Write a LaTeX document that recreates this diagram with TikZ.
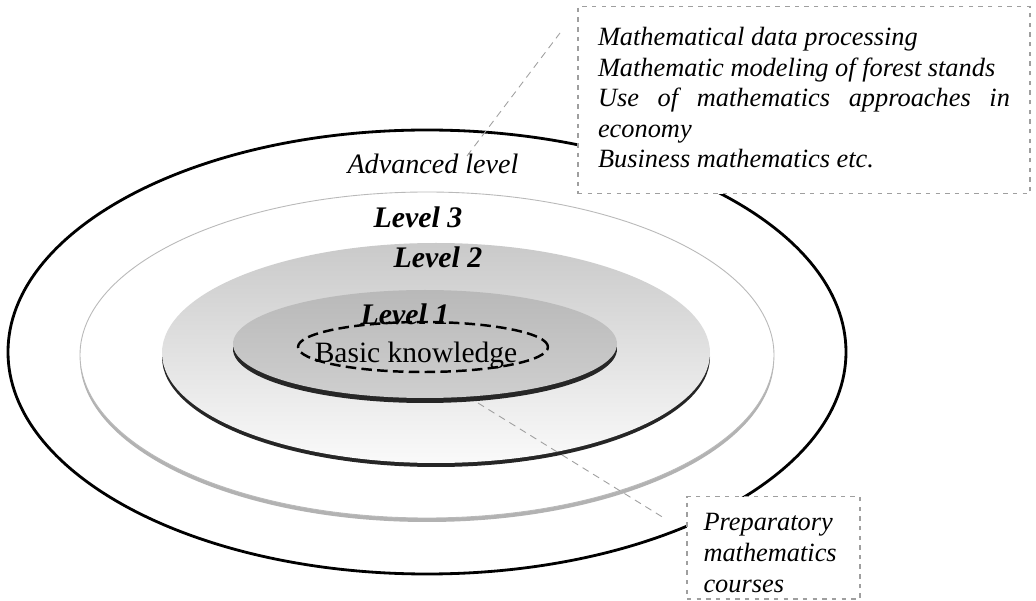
\documentclass[tikz,border=0pt]{standalone}
\usepackage{fontspec}
\setmainfont{Liberation Serif}
\usetikzlibrary{shapes.geometric}
\hyphenpenalty=10000\relax
\exhyphenpenalty=10000\relax
\begin{document}
\begin{tikzpicture}[x=0.02cm,y=-0.02cm,
  pointer/.style={draw=gray!75, line width=0.5pt, dash pattern=on 4pt off 3pt},
  infobox/.style={draw=gray!75, line width=0.8pt, dash pattern=on 2.5pt off 3pt, fill=white, anchor=north},
  lvl/.style={anchor=base, inner sep=0pt, font=\fontsize{17}{20}\selectfont\bfseries\itshape},
  plain/.style={anchor=base, inner sep=0pt},
  edge3/.style={fill=gray!60},
  edgedark/.style={fill=black!85},
]
\useasboundingbox (0,0) rectangle (1036,601);
% outer ellipse (advanced level)
\draw[line width=1.6pt, fill=white] (427,352) ellipse [x radius=419, y radius=222];
% level 3 disc
\fill[edge3] (427,359) ellipse [x radius=347, y radius=163];
\draw[gray!55, line width=0.5pt, fill=white] (427,355) ellipse [x radius=347, y radius=163];
% level 2 disc
\fill[edgedark] (436,357) ellipse [x radius=274, y radius=110];
\shade[top color=gray!42, bottom color=gray!4] (436,353) ellipse [x radius=274, y radius=110];
% level 1 disc
\fill[edgedark] (425,349) ellipse [x radius=192, y radius=54];
\shade[top color=gray!55, bottom color=gray!38] (425,344) ellipse [x radius=192, y radius=54];
% basic knowledge
\node[draw=black, line width=1.4pt, dash pattern=on 6pt off 3pt, ellipse,
      minimum width=5cm, minimum height=1cm, inner sep=0pt] (bk) at (423,347) {};
% labels
\node[plain, font=\fontsize{16}{19}\selectfont\itshape] (adv) at (433,174) {Advanced level};
\node[lvl] (l3) at (418,228) {Level 3};
\node[lvl] (l2) at (438,268) {Level 2};
\node[lvl] (l1) at (405,325) {Level 1};
\node[plain, font=\fontsize{16.8}{20}\selectfont] (bkt) at (416,363) {Basic knowledge};
% pointer lines
\coordinate (p1a) at (467,156);
\coordinate (p1b) at (560,33);
\coordinate (p2a) at (478,403);
\coordinate (p2b) at (664,518);
\draw[pointer] (p1a) -- (p1b);
\draw[pointer] (p2a) -- (p2b);
% boxes
\node[infobox, text width=8.24cm, inner xsep=0.4cm, inner ysep=0pt, align=justify,
      font=\fontsize{15}{17.36}\selectfont\itshape]
  (advbox) at (804,6)
  {\rule{0pt}{0.78cm}Mathematical data processing\\Mathematic modeling of forest stands\\Use of mathematics approaches in economy\\Business mathematics etc.\rule[-0.52cm]{0pt}{0.52cm}};
\node[infobox, text width=2.8cm, inner xsep=0.33cm, inner ysep=0.12cm, align=left,
      font=\fontsize{15}{17.6}\selectfont\itshape]
  (prep) at (773.5,496)
  {\rule{0pt}{0.56cm}Preparatory\\mathematics\\courses};
\end{tikzpicture}
\end{document}
